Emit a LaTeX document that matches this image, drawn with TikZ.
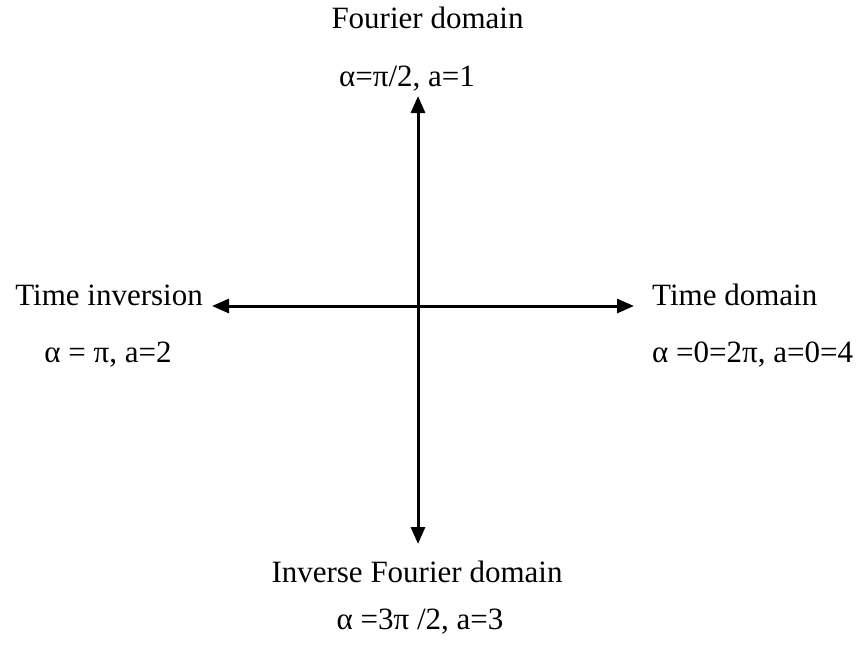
\documentclass[tikz,border=0pt]{standalone}
\usepackage{fontspec}
\setmainfont{Liberation Serif}
\usetikzlibrary{arrows.meta}
\begin{document}
\begin{tikzpicture}[x=1pt,y=-1pt,
  lbl/.style={inner sep=0pt,font=\fontsize{31}{36}\selectfont},
  axis/.style={line width=3pt,{Triangle[length=17pt,width=14pt]}-{Triangle[length=17pt,width=14pt]}}]
\useasboundingbox (0,0) rectangle (861,646);
\coordinate (top) at (418,96);
\coordinate (bottom) at (418,544);
\coordinate (left) at (212,306);
\coordinate (right) at (634,306);
\draw[axis] (top) -- (bottom);
\draw[axis] (left) -- (right);
\node[lbl,anchor=base] (fd) at (427.5,28) {Fourier domain};
\node[lbl,anchor=base] (fdv) at (407,86) {α=π/2, a=1};
\node[lbl,anchor=base east] (ti) at (203,305) {Time inversion};
\node[lbl,anchor=base] (tiv) at (108,362) {α = π, a=2};
\node[lbl,anchor=base west] (td) at (652,305) {Time domain};
\node[lbl,anchor=base west] (tdv) at (652,362) {α =0=2π, a=0=4};
\node[lbl,anchor=base] (ifd) at (417,582) {Inverse Fourier domain};
\node[lbl,anchor=base] (ifdv) at (420,629) {α =3π /2, a=3};
\end{tikzpicture}
\end{document}
